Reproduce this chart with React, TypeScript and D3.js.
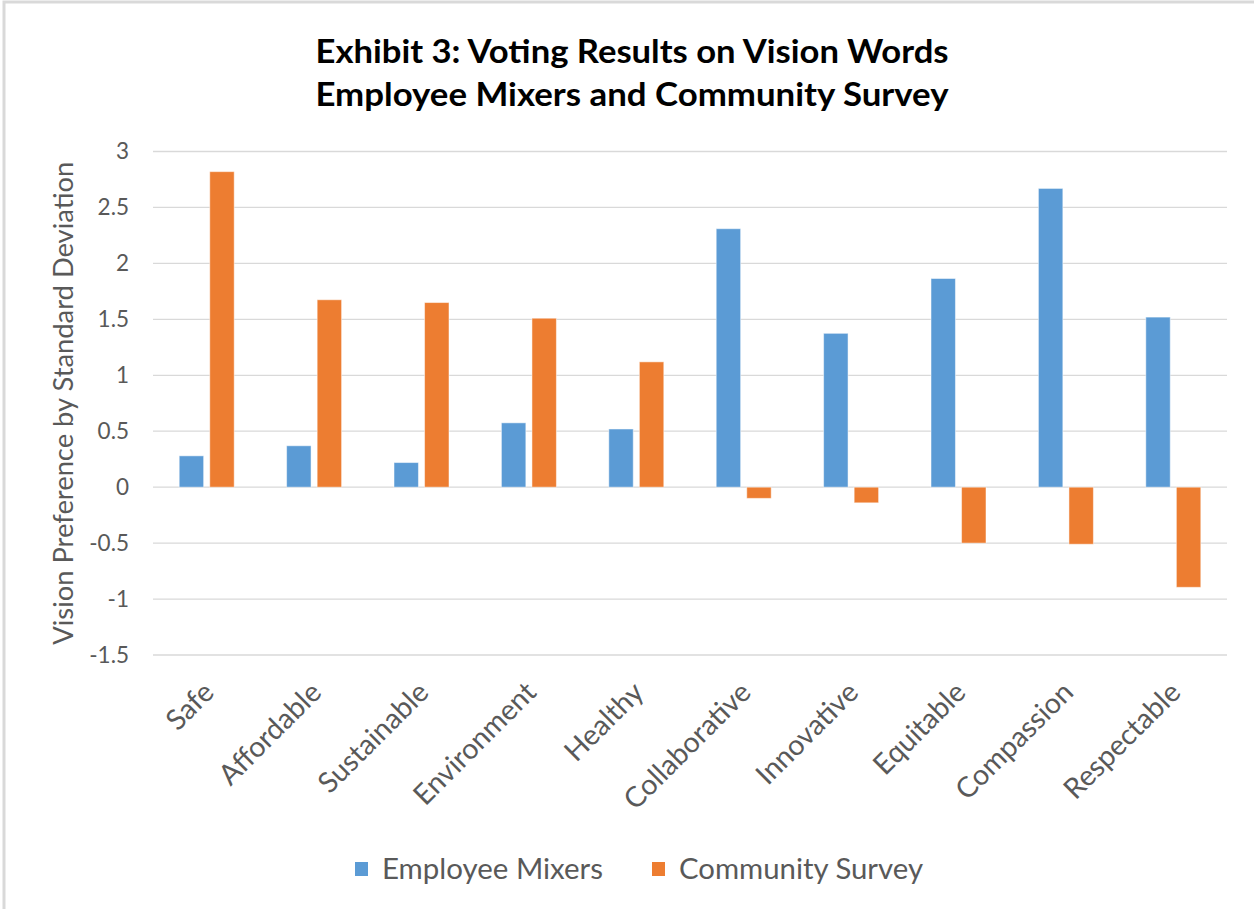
import React from "react";
import * as d3 from "d3";

const categories = ["Safe", "Affordable", "Sustainable", "Environment", "Healthy", "Collaborative", "Innovative", "Equitable", "Compassion", "Respectable"];
const employeeMixers = [0.28, 0.37, 0.22, 0.575, 0.52, 2.31, 1.375, 1.865, 2.67, 1.52];
const communitySurvey = [2.82, 1.675, 1.65, 1.51, 1.12, -0.1, -0.14, -0.5, -0.51, -0.895];
const seriesNames = ["Employee Mixers", "Community Survey"];
const seriesColors = ["#5B9BD5", "#ED7D31"];
const yTicks = [3, 2.5, 2, 1.5, 1, 0.5, 0, -0.5, -1, -1.5];
const titleLines = ["Exhibit 3: Voting Results on Vision Words", "Employee Mixers and Community Survey"];
const yAxisTitle = "Vision Preference by Standard Deviation";

const W = 1254;
const H = 909;
const FONT = "Lato, 'Open Sans', sans-serif";

export default function App() {
  const plotLeft = 153;
  const plotRight = 1227;
  const y = d3.scaleLinear().domain([-1.5, 3]).range([655, 151.5]);
  const x0 = d3.scaleBand<string>().domain(categories).range([plotLeft, plotRight]).padding(0);
  const groupW = 55;
  const off = (x0.bandwidth() - groupW) / 2;
  const x1 = d3.scaleBand<string>().domain(seriesNames).range([off, off + groupW]).paddingInner(0.2).paddingOuter(0);
  const values = [employeeMixers, communitySurvey];
  const legendX = [355, 652];
  const legendLen = [221, 244];

  return (
    <svg width={W} height={H} style={{ position: "fixed", left: 0, top: 0, background: "#fff" }} fontFamily={FONT}>
      <rect x={0} y={0} width={W} height={H} fill="#fff" />
      <rect x={4} y={2} width={W + 10} height={H + 10} fill="none" stroke="#d9d9d9" strokeWidth={3} />
      {titleLines.map((t, i) => (
        <text key={i} x={632} y={63 + i * 43} textAnchor="middle" fontWeight="bold" fontSize={33} fill="#000" textLength={633} lengthAdjust="spacingAndGlyphs">{t}</text>
      ))}
      {yTicks.map((t) => (
        <g key={t}>
          <line x1={plotLeft} x2={plotRight} y1={y(t)} y2={y(t)} stroke="#d9d9d9" strokeWidth={1.3} />
          <text x={129} y={y(t)} dy="0.35em" textAnchor="end" fontSize={22.5} fill="#595959">{t}</text>
        </g>
      ))}
      <text transform={`translate(64,${(y(3) + y(-1.5)) / 2}) rotate(-90)`} textAnchor="middle" dy="0.35em" fontSize={26} fill="#595959" textLength={483} lengthAdjust="spacingAndGlyphs">{yAxisTitle}</text>
      {categories.map((c, i) => (
        <g key={c} transform={`translate(${x0(c)},0)`}>
          {values.map((vals, s) => {
            const v = vals[i];
            const top = y(Math.max(0, v));
            const h = Math.abs(y(v) - y(0));
            return (
              <rect key={s} x={x1(seriesNames[s])} y={top} width={x1.bandwidth()} height={h} fill={seriesColors[s]} stroke="#fff" strokeOpacity={0.5} strokeWidth={1} />
            );
          })}
        </g>
      ))}
      {categories.map((c) => (
        <text key={c} transform={`translate(${(x0(c) as number) + x0.bandwidth() / 2 + 9},${694}) rotate(-45)`} textAnchor="end" fontSize={28.5} fill="#595959">{c}</text>
      ))}
      {seriesNames.map((s, i) => {
        const lx = legendX[i];
        return (
          <g key={s}>
            <rect x={lx} y={862} width={13} height={14} fill={seriesColors[i]} />
            <text x={lx + 27} y={869} dy="0.35em" fontSize={28} fill="#595959" textLength={legendLen[i]} lengthAdjust="spacingAndGlyphs">{s}</text>
          </g>
        );
      })}
    </svg>
  );
}
